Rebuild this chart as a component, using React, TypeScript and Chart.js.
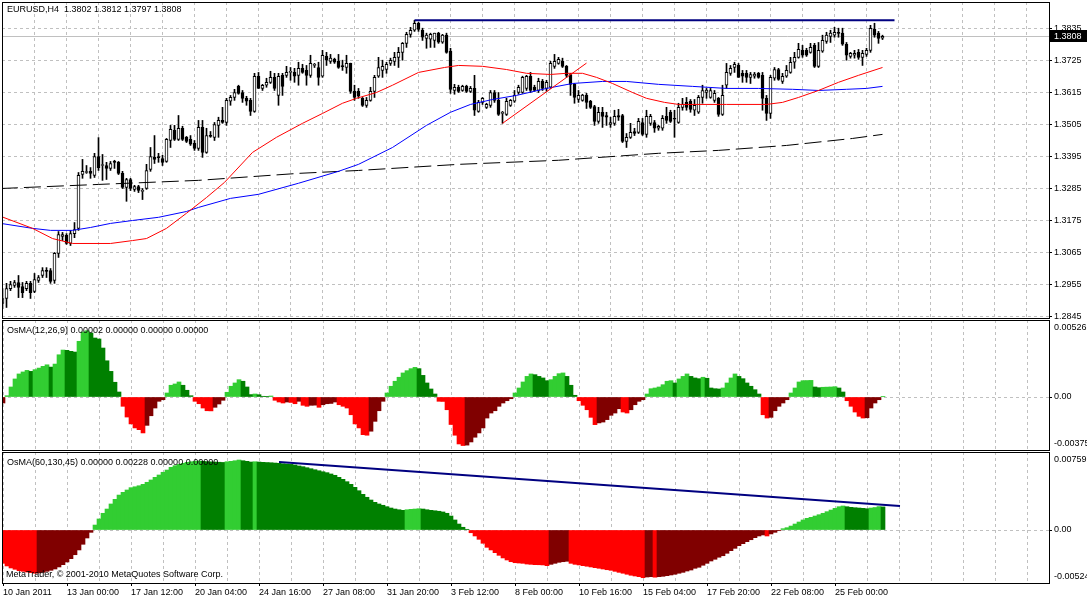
import React, { useEffect, useRef } from 'react';
import { Chart, registerables } from 'chart.js';

Chart.register(...registerables);

// ---------------- data ----------------
const SYMBOL = 'EURUSD,H4';

const OPEN = [
  1.2890,1.2907,1.2941,1.2952,1.2962,1.2948,1.2941,1.2959,1.2931,1.2969,
  1.2986,1.3003,1.3003,1.2969,1.3062,1.3120,1.3124,1.3096,1.3130,1.3148,
  1.3333,1.3340,1.3344,1.3330,1.3395,1.3364,1.3364,1.3354,1.3378,1.3375,
  1.3337,1.3289,1.3316,1.3282,1.3292,1.3275,1.3285,1.3351,1.3392,1.3392,
  1.3388,1.3378,1.3450,1.3485,1.3454,1.3492,1.3461,1.3454,1.3440,1.3423,
  1.3495,1.3409,1.3467,1.3461,1.3502,1.3519,1.3512,1.3585,1.3598,1.3636,
  1.3615,1.3595,1.3588,1.3550,1.3671,1.3629,1.3640,1.3650,1.3667,1.3605,
  1.3674,1.3674,1.3684,1.3684,1.3674,1.3698,1.3691,1.3674,1.3708,1.3701,
  1.3671,1.3739,1.3722,1.3729,1.3722,1.3705,1.3701,1.3715,1.3619,1.3619,
  1.3595,1.3571,1.3588,1.3619,1.3671,1.3691,1.3694,1.3715,1.3722,1.3736,
  1.3753,1.3784,1.3815,1.3829,1.3853,1.3829,1.3801,1.3798,1.3794,1.3819,
  1.3788,1.3812,1.3757,1.3622,1.3633,1.3622,1.3636,1.3619,1.3629,1.3550,
  1.3581,1.3564,1.3571,1.3615,1.3588,1.3543,1.3540,1.3571,1.3585,1.3615,
  1.3615,1.3629,1.3671,1.3633,1.3622,1.3653,1.3629,1.3633,1.3705,1.3715,
  1.3722,1.3705,1.3677,1.3643,1.3591,1.3588,1.3605,1.3585,1.3567,1.3516,
  1.3547,1.3536,1.3505,1.3509,1.3536,1.3536,1.3447,1.3461,1.3481,1.3478,
  1.3512,1.3471,1.3509,1.3512,1.3492,1.3492,1.3533,1.3547,1.3526,1.3512,
  1.3564,1.3581,1.3585,1.3554,1.3547,1.3598,1.3615,1.3598,1.3588,1.3595,
  1.3540,1.3640,1.3681,1.3701,1.3708,1.3681,1.3681,1.3667,1.3671,1.3681,
  1.3674,1.3595,1.3543,1.3664,1.3694,1.3653,1.3671,1.3684,1.3719,1.3736,
  1.3760,1.3760,1.3753,1.3777,1.3705,1.3757,1.3791,1.3808,1.3812,1.3819,
  1.3819,1.3781,1.3739,1.3743,1.3753,1.3736,1.3746,1.3760,1.3832,1.3819,
  1.3802,
];

const HIGH = [
  1.2941,1.2959,1.2966,1.2969,1.2986,1.2962,1.2966,1.2966,1.2993,1.2986,
  1.3013,1.3013,1.3010,1.3065,1.3137,1.3134,1.3130,1.3141,1.3168,1.3340,
  1.3385,1.3364,1.3357,1.3406,1.3460,1.3402,1.3375,1.3378,1.3382,1.3378,
  1.3344,1.3320,1.3320,1.3296,1.3296,1.3285,1.3368,1.3426,1.3467,1.3406,
  1.3399,1.3457,1.3502,1.3502,1.3536,1.3499,1.3464,1.3467,1.3450,1.3519,
  1.3519,1.3492,1.3481,1.3512,1.3530,1.3564,1.3595,1.3605,1.3626,1.3640,
  1.3622,1.3602,1.3595,1.3681,1.3684,1.3643,1.3664,1.3688,1.3681,1.3681,
  1.3681,1.3705,1.3701,1.3698,1.3719,1.3712,1.3708,1.3743,1.3715,1.3719,
  1.3760,1.3753,1.3746,1.3733,1.3746,1.3726,1.3743,1.3716,1.3640,1.3629,
  1.3598,1.3598,1.3633,1.3674,1.3736,1.3726,1.3719,1.3733,1.3753,1.3770,
  1.3787,1.3822,1.3839,1.3863,1.3856,1.3836,1.3819,1.3819,1.3819,1.3822,
  1.3815,1.3819,1.3767,1.3643,1.3640,1.3640,1.3640,1.3636,1.3674,1.3588,
  1.3598,1.3578,1.3622,1.3622,1.3615,1.3550,1.3595,1.3591,1.3622,1.3640,
  1.3671,1.3674,1.3684,1.3640,1.3664,1.3660,1.3657,1.3722,1.3746,1.3736,
  1.3733,1.3708,1.3681,1.3646,1.3622,1.3609,1.3612,1.3588,1.3571,1.3564,
  1.3564,1.3547,1.3530,1.3554,1.3557,1.3540,1.3474,1.3509,1.3492,1.3526,
  1.3526,1.3554,1.3540,1.3519,1.3502,1.3536,1.3564,1.3554,1.3554,1.3578,
  1.3595,1.3598,1.3591,1.3591,1.3605,1.3640,1.3629,1.3629,1.3622,1.3598,
  1.3640,1.3715,1.3708,1.3719,1.3715,1.3691,1.3691,1.3684,1.3684,1.3684,
  1.3684,1.3605,1.3674,1.3701,1.3698,1.3681,1.3708,1.3736,1.3753,1.3784,
  1.3777,1.3767,1.3784,1.3784,1.3787,1.3812,1.3822,1.3829,1.3839,1.3836,
  1.3836,1.3787,1.3753,1.3760,1.3763,1.3760,1.3767,1.3846,1.3853,1.3825,
  1.3812,
];

const LOW = [
  1.2872,1.2876,1.2934,1.2945,1.2910,1.2910,1.2934,1.2907,1.2927,1.2962,
  1.2979,1.2979,1.2959,1.2959,1.3048,1.3106,1.3093,1.3089,1.3116,1.3141,
  1.3320,1.3337,1.3320,1.3323,1.3347,1.3313,1.3316,1.3347,1.3354,1.3333,
  1.3285,1.3241,1.3278,1.3275,1.3271,1.3247,1.3282,1.3344,1.3371,1.3375,
  1.3364,1.3375,1.3426,1.3450,1.3450,1.3450,1.3443,1.3433,1.3416,1.3416,
  1.3392,1.3406,1.3461,1.3450,1.3461,1.3509,1.3502,1.3571,1.3588,1.3609,
  1.3581,1.3571,1.3536,1.3547,1.3629,1.3622,1.3633,1.3646,1.3622,1.3571,
  1.3605,1.3667,1.3657,1.3650,1.3640,1.3681,1.3640,1.3667,1.3701,1.3640,
  1.3667,1.3708,1.3715,1.3715,1.3698,1.3691,1.3681,1.3612,1.3588,1.3595,
  1.3567,1.3564,1.3585,1.3598,1.3667,1.3667,1.3681,1.3708,1.3708,1.3701,
  1.3726,1.3770,1.3805,1.3825,1.3825,1.3794,1.3767,1.3770,1.3770,1.3784,
  1.3784,1.3750,1.3612,1.3609,1.3615,1.3619,1.3615,1.3615,1.3536,1.3547,
  1.3574,1.3560,1.3564,1.3581,1.3536,1.3509,1.3536,1.3567,1.3581,1.3609,
  1.3612,1.3622,1.3615,1.3619,1.3615,1.3622,1.3619,1.3629,1.3698,1.3712,
  1.3701,1.3667,1.3605,1.3578,1.3581,1.3585,1.3560,1.3560,1.3502,1.3509,
  1.3495,1.3502,1.3495,1.3502,1.3519,1.3443,1.3426,1.3457,1.3467,1.3474,
  1.3467,1.3461,1.3502,1.3478,1.3485,1.3485,1.3509,1.3512,1.3461,1.3509,
  1.3554,1.3554,1.3547,1.3536,1.3543,1.3578,1.3595,1.3595,1.3581,1.3533,
  1.3536,1.3629,1.3674,1.3684,1.3667,1.3650,1.3650,1.3646,1.3664,1.3664,
  1.3554,1.3519,1.3526,1.3657,1.3657,1.3646,1.3667,1.3681,1.3698,1.3733,
  1.3736,1.3739,1.3750,1.3701,1.3701,1.3753,1.3784,1.3787,1.3805,1.3805,
  1.3777,1.3726,1.3733,1.3733,1.3729,1.3708,1.3739,1.3753,1.3805,1.3784,
  1.3797,
];

const CLOSE = [
  1.2907,1.2941,1.2955,1.2962,1.2945,1.2927,1.2959,1.2927,1.2972,1.2979,
  1.3003,1.3000,1.2966,1.3062,1.3127,1.3127,1.3096,1.3130,1.3144,1.3330,
  1.3344,1.3341,1.3337,1.3395,1.3357,1.3365,1.3354,1.3371,1.3375,1.3337,
  1.3289,1.3316,1.3285,1.3292,1.3278,1.3276,1.3347,1.3395,1.3385,1.3391,
  1.3375,1.3454,1.3488,1.3454,1.3492,1.3454,1.3447,1.3437,1.3423,1.3495,
  1.3409,1.3467,1.3464,1.3505,1.3519,1.3512,1.3588,1.3598,1.3615,1.3612,
  1.3595,1.3585,1.3550,1.3671,1.3629,1.3640,1.3650,1.3667,1.3629,1.3671,
  1.3636,1.3684,1.3685,1.3671,1.3698,1.3684,1.3674,1.3715,1.3709,1.3667,
  1.3743,1.3726,1.3733,1.3719,1.3701,1.3704,1.3715,1.3619,1.3598,1.3602,
  1.3571,1.3588,1.3619,1.3667,1.3701,1.3705,1.3712,1.3726,1.3736,1.3753,
  1.3784,1.3815,1.3829,1.3853,1.3832,1.3805,1.3812,1.3815,1.3819,1.3788,
  1.3812,1.3753,1.3626,1.3633,1.3619,1.3636,1.3619,1.3629,1.3554,1.3581,
  1.3595,1.3574,1.3615,1.3588,1.3540,1.3544,1.3585,1.3588,1.3605,1.3633,
  1.3667,1.3671,1.3622,1.3622,1.3653,1.3629,1.3650,1.3715,1.3722,1.3729,
  1.3705,1.3674,1.3643,1.3598,1.3605,1.3606,1.3581,1.3564,1.3516,1.3547,
  1.3533,1.3530,1.3512,1.3533,1.3530,1.3447,1.3461,1.3478,1.3474,1.3516,
  1.3471,1.3533,1.3533,1.3492,1.3499,1.3526,1.3519,1.3516,1.3523,1.3564,
  1.3574,1.3564,1.3557,1.3571,1.3598,1.3622,1.3623,1.3622,1.3612,1.3540,
  1.3605,1.3684,1.3698,1.3712,1.3667,1.3671,1.3667,1.3677,1.3678,1.3667,
  1.3595,1.3543,1.3667,1.3694,1.3660,1.3671,1.3691,1.3719,1.3736,1.3763,
  1.3743,1.3743,1.3770,1.3705,1.3760,1.3794,1.3812,1.3819,1.3822,1.3818,
  1.3781,1.3743,1.3750,1.3750,1.3736,1.3750,1.3760,1.3836,1.3812,1.3801,
  1.3808,
];

// moving averages, read at sample bars
const RED_MA_BAR = [-0.4,7.5,12.5,17.5,27,32.5,36,41,46,51,55.5,62.5,68.5,75,80,85,88.5,93.5,97.5,104,110.5,114,120,126,131,137,141,145,148.5,152.5,157.5,161,165.5,169,181,191,195,199,204,209,214,220];
const RED_MA = [1.3189,1.3148,1.3113,1.3096,1.3096,1.3106,1.3113,1.3148,1.3200,1.3254,1.3306,1.3409,1.3461,1.3509,1.3543,1.3578,1.3595,1.3615,1.3640,1.3684,1.3701,1.3708,1.3705,1.3694,1.3681,1.3677,1.3681,1.3681,1.3667,1.3646,1.3615,1.3595,1.3581,1.3574,1.3574,1.3574,1.3581,1.3598,1.3622,1.3650,1.3674,1.3701];
const BLUE_MA_BAR = [-0.4,7.5,12,17.5,22,27,32.5,39,46,49,57,64,74,84,89,97.5,106,112,117,122.5,128.5,136,142.5,150,156,164,172.5,181,189,197.5,204,211,216,220];
const BLUE_MA = [1.3165,1.3148,1.3141,1.3141,1.3151,1.3165,1.3175,1.3186,1.3206,1.3220,1.3251,1.3265,1.3303,1.3344,1.3368,1.3426,1.3502,1.3547,1.3574,1.3591,1.3605,1.3629,1.3646,1.3653,1.3653,1.3643,1.3636,1.3629,1.3629,1.3626,1.3622,1.3626,1.3629,1.3636];
const BLACK_MA_BAR = [-0.4,24,49,74,89,114,139,164,179,196,212.5,220];
const BLACK_MA = [1.3285,1.3299,1.3313,1.3337,1.3347,1.3368,1.3382,1.3406,1.3416,1.3433,1.3457,1.3471];

// drawn objects
const TOP_LINE_BARS = [103, 223];
const TOP_LINE = [1.3863, 1.3863];
const RED_TREND_BARS = [125, 146];
const RED_TREND = [1.3509, 1.3716];

const PRICE_TICKS = [1.2845,1.2955,1.3065,1.3175,1.3285,1.3395,1.3505,1.3615,1.3725,1.3835];

const TIME_LABELS = ['10 Jan 2011','13 Jan 00:00','17 Jan 12:00','20 Jan 04:00','24 Jan 16:00','27 Jan 08:00','31 Jan 20:00','3 Feb 12:00','8 Feb 00:00','10 Feb 16:00','15 Feb 04:00','17 Feb 20:00','22 Feb 08:00','25 Feb 00:00'];

// OsMA(12,26,9)
const OSMA_FAST = [
  -0.00042,0.00009,0.00070,0.00126,0.00161,0.00175,0.00186,0.00179,0.00191,0.00202,
  0.00214,0.00225,0.00209,0.00230,0.00295,0.00328,0.00326,0.00319,0.00314,0.00389,
  0.00454,0.00463,0.00447,0.00412,0.00405,0.00342,0.00253,0.00179,0.00103,0.00035,
  -0.00065,-0.00140,-0.00188,-0.00216,-0.00228,-0.00251,-0.00198,-0.00131,-0.00077,-0.00030,
  -0.00019,0.00028,0.00082,0.00091,0.00105,0.00082,0.00047,0.00009,-0.00030,-0.00047,
  -0.00077,-0.00096,-0.00097,-0.00072,-0.00049,-0.00023,0.00033,0.00075,0.00098,0.00121,
  0.00110,0.00070,0.00017,0.00021,0.00016,0.00005,0.00002,0.00007,-0.00023,-0.00035,
  -0.00042,-0.00035,-0.00038,-0.00047,-0.00030,-0.00058,-0.00065,-0.00058,-0.00057,-0.00072,
  -0.00054,-0.00047,-0.00045,-0.00035,-0.00054,-0.00065,-0.00077,-0.00124,-0.00188,-0.00216,
  -0.00263,-0.00267,-0.00239,-0.00170,-0.00096,-0.00030,0.00028,0.00075,0.00110,0.00138,
  0.00168,0.00184,0.00198,0.00207,0.00198,0.00151,0.00098,0.00056,0.00021,-0.00030,
  -0.00031,-0.00089,-0.00192,-0.00267,-0.00328,-0.00339,-0.00336,-0.00314,-0.00281,-0.00251,
  -0.00216,-0.00147,-0.00112,-0.00096,-0.00065,-0.00042,-0.00026,-0.00012,0.00028,0.00063,
  0.00105,0.00144,0.00161,0.00156,0.00144,0.00133,0.00114,0.00121,0.00144,0.00163,
  0.00168,0.00144,0.00082,0.00012,-0.00026,-0.00058,-0.00089,-0.00142,-0.00193,-0.00181,
  -0.00175,-0.00158,-0.00128,-0.00112,-0.00082,-0.00105,-0.00112,-0.00089,-0.00054,-0.00030,
  -0.00019,0.00021,0.00058,0.00063,0.00070,0.00086,0.00110,0.00114,0.00098,0.00126,
  0.00144,0.00161,0.00144,0.00133,0.00128,0.00138,0.00131,0.00063,0.00058,0.00056,
  0.00063,0.00098,0.00133,0.00161,0.00144,0.00128,0.00098,0.00075,0.00051,0.00021,
  -0.00124,-0.00147,-0.00142,-0.00096,-0.00065,-0.00042,-0.00019,0.00028,0.00063,0.00105,
  0.00114,0.00115,0.00116,0.00070,0.00065,0.00068,0.00069,0.00070,0.00072,0.00063,
  0.00035,-0.00026,-0.00065,-0.00105,-0.00135,-0.00147,-0.00145,-0.00077,-0.00042,-0.00019,
  0.00002,
];

// OsMA(60,130,45)
const OSMA_SLOW = [
  -0.00329,-0.00355,-0.00375,-0.00388,-0.00402,-0.00408,-0.00415,-0.00421,-0.00427,-0.00424,
  -0.00418,-0.00408,-0.00398,-0.00385,-0.00365,-0.00342,-0.00316,-0.00283,-0.00244,-0.00197,
  -0.00141,-0.00079,-0.00023,0.00049,0.00109,0.00165,0.00207,0.00257,0.00303,0.00345,
  0.00372,0.00395,0.00418,0.00427,0.00437,0.00451,0.00471,0.00494,0.00520,0.00543,
  0.00570,0.00592,0.00619,0.00635,0.00648,0.00658,0.00668,0.00674,0.00678,0.00681,
  0.00678,0.00675,0.00673,0.00671,0.00669,0.00667,0.00674,0.00678,0.00684,0.00691,
  0.00684,0.00678,0.00671,0.00674,0.00671,0.00668,0.00666,0.00664,0.00661,0.00658,
  0.00654,0.00651,0.00648,0.00642,0.00632,0.00625,0.00615,0.00605,0.00595,0.00585,
  0.00575,0.00566,0.00553,0.00540,0.00520,0.00500,0.00477,0.00451,0.00421,0.00388,
  0.00352,0.00323,0.00296,0.00273,0.00257,0.00244,0.00230,0.00217,0.00207,0.00200,
  0.00194,0.00200,0.00204,0.00207,0.00210,0.00207,0.00200,0.00194,0.00190,0.00185,
  0.00178,0.00165,0.00138,0.00099,0.00059,0.00027,0.00007,-0.00027,-0.00059,-0.00092,
  -0.00131,-0.00171,-0.00197,-0.00224,-0.00250,-0.00276,-0.00296,-0.00313,-0.00323,-0.00326,
  -0.00329,-0.00336,-0.00339,-0.00342,-0.00343,-0.00345,-0.00352,-0.00339,-0.00329,-0.00319,
  -0.00313,-0.00309,-0.00329,-0.00339,-0.00345,-0.00352,-0.00358,-0.00365,-0.00372,-0.00378,
  -0.00385,-0.00392,-0.00398,-0.00408,-0.00418,-0.00427,-0.00437,-0.00447,-0.00454,-0.00461,
  -0.00471,-0.00464,-0.00461,-0.00466,-0.00461,-0.00457,-0.00451,-0.00444,-0.00437,-0.00427,
  -0.00418,-0.00405,-0.00395,-0.00378,-0.00368,-0.00348,-0.00329,-0.00306,-0.00289,-0.00269,
  -0.00254,-0.00230,-0.00204,-0.00181,-0.00155,-0.00135,-0.00115,-0.00096,-0.00076,-0.00059,
  -0.00049,-0.00059,-0.00039,-0.00023,-0.00007,0.00013,0.00023,0.00039,0.00059,0.00079,
  0.00099,0.00115,0.00125,0.00138,0.00151,0.00165,0.00181,0.00197,0.00214,0.00230,
  0.00237,0.00230,0.00224,0.00220,0.00217,0.00214,0.00210,0.00217,0.00222,0.00231,
  0.00228,
];
const OSMA_SLOW_LINE_BARS = [69, 224.25];
const OSMA_SLOW_LINE = [0.00671, 0.00237];

const OSMA_FAST_LABELS = ['-0.00375', '0.00', '0.00526'];
const OSMA_SLOW_LABELS = ['-0.00524', '0.00', '0.00759'];

const OSMA_FAST_TITLE = 'OsMA(12,26,9) 0.00002 0.00000 0.00000 0.00000';
const OSMA_SLOW_TITLE = 'OsMA(60,130,45) 0.00000 0.00228 0.00000 0.00000';
const COPYRIGHT = 'MetaTrader, \u00A9 2001-2010 MetaQuotes Software Corp.';

// ---------------- layout & style ----------------
const W = 1087;
const H = 600;
const AXIS_W = 38;
const LEFT = 2;
const BAR_PX = 4;
const X_SPAN = (W - AXIS_W - LEFT) / BAR_PX;

const MAIN_TOP = 2;
const MAIN_BOTTOM = 318;
const MAIN_MIN = 1.283984;
const MAIN_MAX = 1.392609;

const P1_TOP = 320;
const P1_BOTTOM = 450;
const P1_ZERO = 397;
const P1_PX_PER_UNIT = 14320;

const P2_TOP = 452;
const P2_BOTTOM = 583;
const P2_ZERO = 530;
const P2_PX_PER_UNIT = 10130;

const GRID = '#c0c0c0';
const FONT_FAMILY = "'Liberation Sans', Arial, sans-serif";
const FONT_SIZE = 9;
const FONT = `${FONT_SIZE}px ${FONT_FAMILY}`;
const LIME = '#32cd32';
const GREEN = '#008000';
const RED = '#ff0000';
const MAROON = '#800000';
const NAVY = '#000080';
const BLUE = '#0000ff';
const CLEAR = 'rgba(0,0,0,0)';

const GRID_BARS: number[] = [];
for (let b = 0; b <= 256; b += 8) GRID_BARS.push(b);

const pts = (bars: number[], vals: number[]) => bars.map((x, k) => ({ x, y: vals[k] }));
const timeLabel = (v: number) =>
  v % 16 === 0 && v / 16 < TIME_LABELS.length ? TIME_LABELS[v / 16] : '';

function osmaColors(vals: number[]) {
  return vals.map((v, i) => {
    const rising = i === 0 ? vals[1] >= v : v >= vals[i - 1];
    if (v >= 0) return rising ? LIME : GREEN;
    return rising ? MAROON : RED;
  });
}

function xScale(min: number, withLabels: boolean) {
  return {
    type: 'linear',
    min,
    max: min + X_SPAN,
    offset: false,
    grid: {
      offset: false,
      color: GRID,
      lineWidth: 1,
      drawTicks: withLabels,
      tickLength: 3,
      tickColor: (c: any) => (withLabels && c.tick && timeLabel(c.tick.value) ? '#000' : CLEAR),
    },
    border: { display: false, dash: [3, 3] },
    ticks: {
      display: withLabels,
      autoSkip: false,
      maxRotation: 0,
      minRotation: 0,
      align: 'start',
      padding: 1,
      color: '#000',
      font: { family: FONT_FAMILY, size: FONT_SIZE },
      callback: (v: number) => timeLabel(v),
    },
    afterBuildTicks: (s: any) => {
      s.ticks = GRID_BARS.map((v) => ({ value: v }));
    },
    afterFit: (s: any) => {
      s.height = withLabels ? H - P2_BOTTOM : 0;
      s.paddingLeft = 0;
      s.paddingRight = 0;
    },
  };
}

function yScale(min: number, max: number, tickVals: number[], labelFor: (v: number, i: number) => string, gridAll: boolean) {
  return {
    type: 'linear',
    position: 'right',
    min,
    max,
    grid: {
      color: (c: any) => (gridAll || (c.tick && c.tick.value === 0) ? GRID : CLEAR),
      drawTicks: true,
      tickLength: 3,
      tickColor: (c: any) => (gridAll || (c.tick && c.tick.value === 0) ? '#000' : CLEAR),
    },
    border: { display: false, dash: [3, 3] },
    ticks: {
      padding: 2,
      color: '#000',
      autoSkip: false,
      font: { family: FONT_FAMILY, size: FONT_SIZE },
      callback: (v: number, i: number) => labelFor(v, i),
    },
    afterBuildTicks: (s: any) => {
      s.ticks = tickVals.map((v) => ({ value: v }));
    },
    afterFit: (s: any) => {
      s.width = AXIS_W;
      s.paddingTop = 0;
      s.paddingBottom = 0;
    },
  };
}

function common(padding: any) {
  return {
    responsive: false,
    animation: false,
    events: [],
    layout: { padding },
    plugins: { legend: { display: false }, tooltip: { enabled: false } },
  };
}

function drawFrame(chart: any) {
  const { ctx, chartArea: a } = chart;
  ctx.save();
  ctx.strokeStyle = '#000';
  ctx.lineWidth = 1;
  ctx.strokeRect(a.left + 0.5, a.top + 0.5, a.right - a.left, a.bottom - a.top);
  ctx.restore();
}

function drawText(chart: any, text: string, x: number, y: number, color = '#000') {
  const { ctx } = chart;
  ctx.save();
  ctx.font = FONT;
  ctx.fillStyle = color;
  ctx.textAlign = 'left';
  ctx.textBaseline = 'middle';
  ctx.fillText(text, x, y);
  ctx.restore();
}

function mainConfig() {
  const last = CLOSE.length - 1;
  const idx = OPEN.map((_, i) => i);
  const title = `${SYMBOL}  ${OPEN[last].toFixed(4)} ${HIGH[last].toFixed(4)} ${LOW[last].toFixed(4)} ${CLOSE[last].toFixed(4)}`;
  const plugin = {
    id: 'mainExtras',
    beforeDatasetsDraw(chart: any) {
      const { ctx, chartArea: a, scales } = chart;
      const y = Math.round(scales.y.getPixelForValue(CLOSE[last])) + 0.5;
      ctx.save();
      ctx.strokeStyle = GRID;
      ctx.lineWidth = 1;
      ctx.beginPath();
      ctx.moveTo(a.left, y);
      ctx.lineTo(a.right, y);
      ctx.stroke();
      ctx.restore();
    },
    afterDraw(chart: any) {
      const { ctx, chartArea: a, scales } = chart;
      drawFrame(chart);
      drawText(chart, title, 7, 10);
      const y = Math.round(scales.y.getPixelForValue(CLOSE[last])) + 0.5;
      ctx.save();
      ctx.fillStyle = '#000';
      ctx.fillRect(a.right + 1, Math.round(y - 6.5), W - a.right - 1, 12);
      ctx.restore();
      drawText(chart, CLOSE[last].toFixed(4), a.right + 5, y, '#fff');
    },
  };
  return {
    type: 'bar',
    data: {
      datasets: [
        { type: 'line', data: pts(TOP_LINE_BARS, TOP_LINE), borderColor: NAVY, borderWidth: 2, pointRadius: 0, order: 0 },
        { type: 'line', data: pts(RED_TREND_BARS, RED_TREND), borderColor: RED, borderWidth: 1, pointRadius: 0, order: 0 },
        { type: 'line', data: pts(RED_MA_BAR, RED_MA), borderColor: RED, borderWidth: 1, pointRadius: 0, order: 1 },
        { type: 'line', data: pts(BLUE_MA_BAR, BLUE_MA), borderColor: BLUE, borderWidth: 1, pointRadius: 0, order: 1 },
        { type: 'line', data: pts(BLACK_MA_BAR, BLACK_MA), borderColor: '#000', borderWidth: 1, borderDash: [17, 6], pointRadius: 0, order: 1 },
        {
          type: 'bar',
          data: idx.map((i) => ({ x: i, y: [Math.min(OPEN[i], CLOSE[i]), Math.max(OPEN[i], CLOSE[i])] })),
          backgroundColor: idx.map((i) => (CLOSE[i] >= OPEN[i] ? '#ffffff' : '#000000')),
          borderColor: '#000',
          borderWidth: 1,
          borderSkipped: false,
          barThickness: 3,
          minBarLength: 1,
          grouped: false,
          order: 2,
        },
        {
          type: 'bar',
          data: idx.map((i) => ({ x: i, y: [LOW[i], HIGH[i]] })),
          backgroundColor: '#000',
          borderWidth: 0,
          barThickness: 1,
          grouped: false,
          order: 3,
        },
      ],
    },
    options: {
      ...common({ left: LEFT, top: MAIN_TOP, right: 0, bottom: H - MAIN_BOTTOM }),
      scales: {
        x: xScale(-0.125, false),
        y: yScale(MAIN_MIN, MAIN_MAX, PRICE_TICKS, (v) => v.toFixed(4), true),
      },
    },
    plugins: [plugin],
  };
}

function panelConfig(
  vals: number[],
  top: number,
  bottom: number,
  zero: number,
  pxPerUnit: number,
  labels: string[],
  title: string,
  withTime: boolean,
  extraDatasets: any[],
  extraText?: string,
) {
  const max = (zero - top) / pxPerUnit;
  const min = -(bottom - zero) / pxPerUnit;
  const topLabel = (zero - (top + 8)) / pxPerUnit;
  const bottomLabel = -((bottom - 6) - zero) / pxPerUnit;
  const plugin = {
    id: 'panelExtras',
    afterDraw(chart: any) {
      drawFrame(chart);
      drawText(chart, title, 7, top + 11);
      if (extraText) drawText(chart, extraText, 6, bottom - 8);
    },
  };
  return {
    type: 'bar',
    data: {
      datasets: [
        ...extraDatasets,
        {
          type: 'bar',
          data: vals.map((v, i) => ({ x: i, y: v })),
          backgroundColor: osmaColors(vals),
          borderWidth: 0,
          barThickness: 4,
          grouped: false,
          order: 2,
        },
      ],
    },
    options: {
      ...common({ left: LEFT, top, right: 0, bottom: withTime ? 0 : H - bottom }),
      scales: {
        x: xScale(-0.25, withTime),
        y: yScale(min, max, [bottomLabel, 0, topLabel], (_v, i) => labels[i], false),
      },
    },
    plugins: [plugin],
  };
}

export default function App() {
  const mainRef = useRef<HTMLCanvasElement>(null);
  const p1Ref = useRef<HTMLCanvasElement>(null);
  const p2Ref = useRef<HTMLCanvasElement>(null);

  useEffect(() => {
    const charts: Chart[] = [];
    if (mainRef.current) charts.push(new Chart(mainRef.current, mainConfig() as any));
    if (p1Ref.current)
      charts.push(
        new Chart(
          p1Ref.current,
          panelConfig(OSMA_FAST, P1_TOP, P1_BOTTOM, P1_ZERO, P1_PX_PER_UNIT, OSMA_FAST_LABELS, OSMA_FAST_TITLE, false, []) as any,
        ),
      );
    if (p2Ref.current)
      charts.push(
        new Chart(
          p2Ref.current,
          panelConfig(
            OSMA_SLOW,
            P2_TOP,
            P2_BOTTOM,
            P2_ZERO,
            P2_PX_PER_UNIT,
            OSMA_SLOW_LABELS,
            OSMA_SLOW_TITLE,
            true,
            [
              {
                type: 'line',
                data: pts(OSMA_SLOW_LINE_BARS, OSMA_SLOW_LINE),
                borderColor: NAVY,
                borderWidth: 2,
                pointRadius: 0,
                order: 0,
              },
            ],
            COPYRIGHT,
          ) as any,
        ),
      );
    return () => charts.forEach((c) => c.destroy());
  }, []);

  const canvasStyle: React.CSSProperties = { position: 'absolute', left: 0, top: 0, width: W, height: H };
  return (
    <div style={{ position: 'fixed', left: 0, top: 0, width: W, height: H, background: '#fff', overflow: 'hidden' }}>
      <canvas ref={mainRef} width={W} height={H} style={canvasStyle} />
      <canvas ref={p1Ref} width={W} height={H} style={canvasStyle} />
      <canvas ref={p2Ref} width={W} height={H} style={canvasStyle} />
    </div>
  );
}
